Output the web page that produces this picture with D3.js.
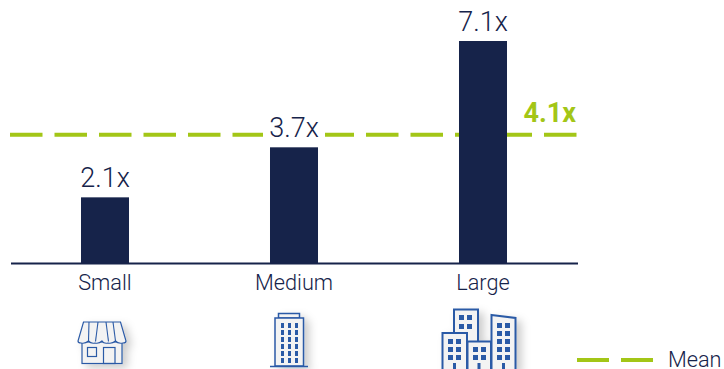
<!DOCTYPE html>
<html>
<head>
<meta charset="utf-8">
<script src="https://cdn.jsdelivr.net/npm/d3@7"></script>
<style>
html,body{margin:0;padding:0;background:#fff;overflow:hidden}
text{font-family:Roboto,sans-serif}
</style>
</head>
<body>
<svg id="chart" width="724" height="369"></svg>
<script>
const categories = ["Small", "Medium", "Large"];
const multiples = [2.1, 3.7, 7.1];
const meanValue = 4.1;
const legendLabel = "Mean";

const navy = "#16234a", green = "#a3c617", iconBlue = "#2b5aa6";
const svg = d3.select("#chart");
const baseY = 263;

const x = d3.scaleBand().domain(categories).range([10.5, 577.5]).paddingInner(0.746).paddingOuter(0.373);
const y = d3.scaleLinear().domain([0, 7.1]).range([baseY, 41]);
const fmt = v => d3.format(".1f")(v) + "x";

const defs = svg.append("defs");
defs.append("filter").attr("id", "iconShadow").attr("x", "-30%").attr("y", "-30%").attr("width", "170%").attr("height", "170%")
  .append("feDropShadow").attr("dx", 5).attr("dy", 4).attr("stdDeviation", 4)
  .attr("flood-color", "#000").attr("flood-opacity", 0.2);

// Mean reference line
svg.append("line")
  .attr("x1", 10).attr("x2", 577).attr("y1", y(meanValue)).attr("y2", y(meanValue))
  .attr("stroke", green).attr("stroke-width", 4).attr("stroke-dasharray", "32.5 12");

// Bars
svg.selectAll("rect.bar").data(categories).join("rect").attr("class", "bar")
  .attr("x", d => x(d)).attr("width", x.bandwidth())
  .attr("y", (d, i) => y(multiples[i])).attr("height", (d, i) => baseY - y(multiples[i]))
  .attr("fill", navy);

// Value labels; the white plate keeps the mean line off the text
const labels = svg.selectAll("g.val").data(categories).join("g").attr("class", "val");
labels.filter((d, i) => y(multiples[i]) > y(meanValue)).append("rect")
  .attr("x", d => x(d) + x.bandwidth() / 2 - 31).attr("width", 62)
  .attr("y", (d) => y(multiples[categories.indexOf(d)]) - 36).attr("height", 30).attr("fill", "#fff");
labels.append("text")
  .attr("x", d => x(d) + x.bandwidth() / 2)
  .attr("y", d => y(multiples[categories.indexOf(d)]) - 10)
  .attr("text-anchor", "middle").attr("font-size", 27).attr("font-weight", 350).attr("fill", navy)
  .text(d => fmt(multiples[categories.indexOf(d)]));

// Category axis
const axis = d3.axisBottom(x).tickSize(0).tickPadding(12);
const gAxis = svg.append("g").attr("transform", `translate(0,${baseY})`).call(axis);
gAxis.select(".domain").attr("stroke", navy).attr("stroke-width", 2);
gAxis.selectAll("text").attr("font-size", 21.7).attr("font-weight", 350).attr("fill", navy).style("font-family", "Roboto,sans-serif");

// Mean value
svg.append("text").attr("x", 576).attr("y", 122).attr("text-anchor", "end")
  .attr("font-size", 27).attr("font-weight", 700).attr("fill", green).text(fmt(meanValue));

// Legend
svg.append("line").attr("x1", 577).attr("x2", 653).attr("y1", 360).attr("y2", 360)
  .attr("stroke", green).attr("stroke-width", 4).attr("stroke-dasharray", "32 12");
svg.append("text").attr("x", 668).attr("y", 367).attr("font-size", 21.7).attr("font-weight", 350).attr("fill", navy).text(legendLabel);

// Size pictograms
function outlined(g, tag, attrs, sw) {
  const el = g.append(tag).attr("fill", "#fff").attr("stroke", iconBlue).attr("stroke-width", sw);
  Object.entries(attrs).forEach(([k, v]) => el.attr(k, v));
  return el;
}
function windows(g, xs, ys, w, h) {
  xs.forEach(a => ys.forEach(b => g.append("rect").attr("x", a).attr("y", b).attr("width", w).attr("height", h).attr("fill", iconBlue)));
}

// Shop
const shop = svg.append("g").attr("filter", "url(#iconShadow)").attr("transform", "translate(60,300)");
outlined(shop, "rect", {x: 22, y: 42, width: 40, height: 21.5, fill: "#f3f3f3"}, 1.2);
outlined(shop, "path", {d: "M23.5 22 L60.5 22 L66 41 Q66 43 63 43 Q58 44 55.5 41 Q52 44 48 43 Q44 44 42 41 Q39 44 35 43 Q31 44 28.5 41 Q25 44 21 43 Q18 43 18 41 Z", fill: "#f3f3f3"}, 1.2);
["M29 22 L28.5 41", "M38 22 L35.5 41.5", "M46 22 L48.5 41.5", "M53 22 L55.5 41"].forEach(d =>
  shop.append("path").attr("d", d).attr("fill", "none").attr("stroke", iconBlue).attr("stroke-width", 1.1));
shop.append("rect").attr("x", 27.5).attr("y", 47.5).attr("width", 9).attr("height", 9).attr("fill", "none").attr("stroke", iconBlue).attr("stroke-width", 1.2);
shop.append("rect").attr("x", 43.5).attr("y", 47.5).attr("width", 11.5).attr("height", 16).attr("fill", "none").attr("stroke", iconBlue).attr("stroke-width", 1.2);

// Office tower
const tower = svg.append("g").attr("filter", "url(#iconShadow)").attr("transform", "translate(250,300)");
outlined(tower, "rect", {x: 28.5, y: 13.5, width: 21, height: 4.5, fill: "#f3f3f3"}, 1.5);
outlined(tower, "rect", {x: 25, y: 18, width: 28.5, height: 48, fill: "#f3f3f3"}, 1.5);
tower.append("line").attr("x1", 20).attr("x2", 58).attr("y1", 66.5).attr("y2", 66.5).attr("stroke", iconBlue).attr("stroke-width", 1.6);
windows(tower, [31, 38, 45], [23, 30, 37, 44, 51, 58], 3, 5);

// City blocks
const city = svg.append("g").attr("filter", "url(#iconShadow)").attr("transform", "translate(430,300)");
outlined(city, "rect", {x: 24, y: 9.5, width: 24, height: 40, fill: "#f3f3f3"}, 2);
outlined(city, "path", {d: "M61.5 15 L85.5 18 L85.5 70 L61.5 70 Z", fill: "#f3f3f3"}, 2);
outlined(city, "rect", {x: 37.5, y: 41.5, width: 23.5, height: 30, fill: "#f3f3f3"}, 2);
outlined(city, "rect", {x: 12.5, y: 33, width: 24.5, height: 38, fill: "#f3f3f3"}, 2);
windows(city, [29, 37], [15, 24], 5, 5);
windows(city, [18, 26], [39, 47, 55], 5, 5);
windows(city, [43, 51], [47, 55], 5, 5);
windows(city, [67, 75], [23, 31, 39, 47, 55], 5, 5);
[[23, 63], [47.5, 63], [72, 63]].forEach(([a, b]) =>
  city.append("rect").attr("x", a).attr("y", b).attr("width", 3).attr("height", 7).attr("fill", iconBlue));
</script>
</body>
</html>
